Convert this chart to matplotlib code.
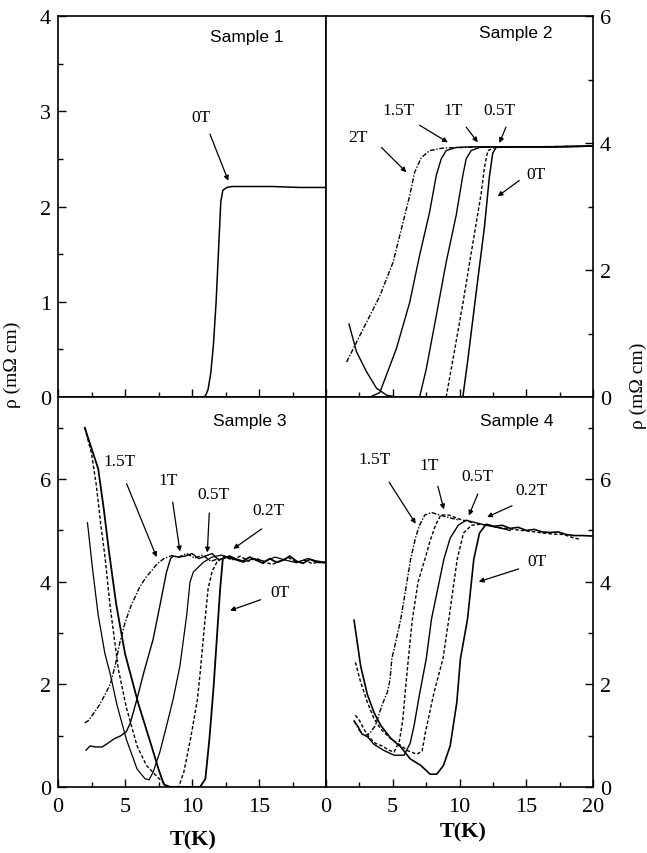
import matplotlib
matplotlib.use('Agg')
import matplotlib.pyplot as plt
from matplotlib.ticker import MultipleLocator, FuncFormatter

plt.rcParams['font.family'] = 'Liberation Serif'

# ---- Sample 1 ----
s1_T = [10.8, 11.0, 11.2, 11.4, 11.6, 11.8, 12.0, 12.15, 12.3, 12.6, 13.0, 14, 16, 18, 20]
s1_r = [0, 0.01, 0.08, 0.25, 0.55, 1.0, 1.6, 2.05, 2.17, 2.2, 2.21, 2.21, 2.21, 2.2, 2.2]

# ---- Sample 2 ----
s2_0T_T = [10.25, 10.62, 11.24, 11.87, 12.24, 12.49, 12.74, 13.5, 15, 17, 20]
s2_0T_r = [0, 0.58, 1.63, 2.68, 3.47, 3.84, 3.93, 3.94, 3.94, 3.94, 3.95]
s2_05T_T = [9.0, 9.5, 10.25, 10.99, 11.62, 11.87, 12.12, 12.61, 13.5, 15, 17, 20]
s2_05T_r = [0, 0.58, 1.47, 2.41, 3.2, 3.62, 3.88, 3.93, 3.94, 3.94, 3.94, 3.95]
s2_1T_T = [7.01, 7.51, 8.26, 9.0, 9.75, 10.25, 10.5, 10.87, 11.49, 12.5, 14, 17, 20]
s2_1T_r = [0, 0.44, 1.28, 2.12, 2.86, 3.49, 3.75, 3.88, 3.93, 3.94, 3.94, 3.94, 3.95]
s2_15T_T = [3.3, 4.03, 5.27, 6.27, 7.01, 7.76, 8.26, 8.63, 9.0, 9.75, 11, 13, 16, 20]
s2_15T_r = [0, 0.07, 0.76, 1.49, 2.23, 2.91, 3.49, 3.75, 3.88, 3.93, 3.94, 3.94, 3.94, 3.95]
s2_2T_T = [1.54, 2.54, 4.03, 5.02, 5.65, 6.27, 6.64, 7.14, 7.76, 8.75, 10.25, 12, 15, 20]
s2_2T_r = [0.55, 0.97, 1.59, 2.12, 2.65, 3.17, 3.54, 3.77, 3.88, 3.92, 3.93, 3.94, 3.94, 3.95]
s2_up_T = [1.72, 2.29, 3.03, 3.78, 4.53, 5.03, 5.3]
s2_up_r = [1.15, 0.71, 0.4, 0.14, 0.03, 0.01, 0.0]

# ---- Sample 3 ----
s3_0T_T = [2.0, 2.5, 3.0, 3.4, 3.8, 4.35, 5.0, 6.0, 7.0, 7.5, 7.9, 8.3, 10.6, 11.0, 11.3, 11.6,
           11.85, 12.1, 12.3, 12.8, 13.3, 13.8, 14.3, 14.8, 15.3, 15.8, 16.3, 16.8, 17.3, 17.8,
           18.3, 18.8, 19.3, 20.0]
s3_0T_r = [7.0, 6.6, 6.2, 5.45, 4.6, 3.55, 2.6, 1.62, 0.78, 0.35, 0.05, 0.0, 0.0, 0.16, 0.94, 1.91,
           2.88, 3.86, 4.45, 4.5, 4.44, 4.4, 4.48, 4.42, 4.36, 4.45, 4.38, 4.42, 4.5, 4.4,
           4.36, 4.44, 4.38, 4.37]
s3_02T_T = [2.0, 2.5, 2.85, 3.2, 3.5, 3.9, 4.5, 5.1, 5.9, 6.6, 7.4, 8.1, 8.5, 9.0, 9.4, 9.9, 10.4,
            10.6, 10.95, 11.2, 11.5, 11.85, 12.4, 13.0, 13.6, 14.2, 14.8, 15.4, 16.0, 16.6, 17.2,
            17.8, 18.4, 19.0, 19.5]
s3_02T_r = [7.0, 6.5, 5.9, 5.1, 4.5, 3.5, 2.3, 1.55, 0.8, 0.42, 0.2, 0.03, 0.0, 0.0, 0.3, 0.95, 1.7,
            2.2, 3.2, 3.86, 4.2, 4.38, 4.5, 4.42, 4.5, 4.4, 4.46, 4.38, 4.34, 4.4, 4.47,
            4.38, 4.42, 4.35, 4.4]
s3_05T_T = [2.2, 2.6, 3.0, 3.5, 3.9, 4.4, 5.1, 5.9, 6.5, 6.8, 7.1, 7.6, 8.1, 8.6, 9.1, 9.6, 9.85,
            10.1, 10.85, 11.5, 12.2, 13.0, 13.8, 14.6, 15.4, 16.2, 17.0, 17.8, 18.6, 19.4, 20.0]
s3_05T_r = [5.15, 4.2, 3.35, 2.6, 2.2, 1.6, 0.93, 0.35, 0.16, 0.14, 0.29, 0.68, 1.19, 1.72, 2.36, 3.34,
            3.99, 4.19, 4.38, 4.48, 4.52, 4.45, 4.38, 4.45, 4.4, 4.48, 4.42, 4.37, 4.45, 4.4, 4.38]
s3_1T_T = [2.1, 2.4, 2.8, 3.3, 3.7, 4.2, 4.7, 5.1, 5.4, 5.9, 6.4, 7.1, 7.6, 8.1, 8.4, 8.6, 9.0, 9.5,
           10.0, 10.5, 11.0, 11.5, 12.0, 12.5, 13.0]
s3_1T_r = [0.72, 0.8, 0.78, 0.78, 0.85, 0.94, 1.0, 1.08, 1.25, 1.72, 2.23, 2.88, 3.53, 4.19, 4.45, 4.5,
           4.48, 4.5, 4.55, 4.45, 4.5, 4.55, 4.42, 4.48, 4.45]
s3_15T_T = [2.0, 2.3, 2.7, 3.1, 3.5, 3.9, 4.3, 4.6, 5.0, 5.4, 6.1, 6.6, 7.0, 7.4, 7.9, 8.5, 9.0, 9.6,
            10.2, 10.8, 11.4, 12.0]
s3_15T_r = [1.25, 1.3, 1.45, 1.6, 1.8, 2.0, 2.4, 2.8, 3.2, 3.5, 3.9, 4.1, 4.22, 4.35, 4.45, 4.51, 4.48,
            4.55, 4.46, 4.52, 4.4, 4.45]

# ---- Sample 4 ----
s4_0T_T = [2.1, 2.6, 3.1, 3.6, 4.1, 4.85, 5.6, 6.3, 7.1, 7.8, 8.3, 8.8, 9.3, 9.8, 10.07, 10.6, 11.07,
           11.5, 12.0, 12.6, 13.2, 13.8, 14.4, 15.0, 15.6, 16.2, 16.8, 17.4, 18.0, 18.6, 19.2, 20.0]
s4_0T_r = [3.25, 2.35, 1.8, 1.45, 1.2, 0.95, 0.78, 0.55, 0.42, 0.25, 0.25, 0.42, 0.8, 1.65, 2.5, 3.27, 4.44,
           4.95, 5.12, 5.08, 5.1, 5.04, 5.06, 5.0, 5.02, 4.97, 4.96, 4.97, 4.92, 4.9, 4.9, 4.89]
s4_02T_T = [2.2, 2.6, 3.1, 3.6, 4.1, 4.85, 5.6, 6.1, 6.8, 7.2, 7.45, 8.1, 8.76, 9.2, 9.83, 10.3, 10.9,
            11.5, 12.2, 13.0, 13.8, 14.6, 15.4, 16.2, 17.0, 17.8, 18.6, 19.0]
s4_02T_r = [2.43, 2.04, 1.65, 1.33, 1.13, 0.94, 0.81, 0.71, 0.64, 0.7, 1.07, 1.85, 2.5, 3.27, 4.44, 4.95, 5.1,
            5.12, 5.1, 5.05, 5.03, 5.0, 4.98, 4.95, 4.93, 4.92, 4.85, 4.83]
s4_05T_T = [2.1, 2.4, 2.7, 3.1, 3.6, 4.35, 5.1, 5.85, 6.3, 6.6, 7.0, 7.51, 7.9, 8.83, 9.3, 9.9, 10.5,
            11.2, 12.0, 13.0, 13.8]
s4_05T_r = [1.28, 1.18, 1.03, 0.98, 0.83, 0.71, 0.62, 0.62, 0.85, 1.2, 1.8, 2.5, 3.27, 4.44, 4.85, 5.1, 5.2,
            5.15, 5.1, 5.05, 5.0]
s4_1T_T = [2.2, 2.5, 2.9, 3.3, 3.7, 4.2, 4.7, 5.1, 5.5, 5.75, 5.95, 6.17, 6.47, 6.9, 7.41, 7.8, 8.2, 8.6,
           9.2, 10.0, 11.0]
s4_1T_r = [1.4, 1.3, 1.1, 0.95, 0.85, 0.8, 0.72, 0.68, 0.9, 1.3, 1.9, 2.5, 3.27, 4.0, 4.44, 4.8, 5.1, 5.3,
           5.3, 5.22, 5.15]
s4_15T_T = [2.1, 2.5, 2.9, 3.3, 3.7, 4.2, 4.6, 4.8, 4.93, 5.2, 5.6, 6.0, 6.34, 6.7, 7.0, 7.4, 7.9, 8.5,
            9.2, 10.0]
s4_15T_r = [1.3, 1.1, 1.0, 1.05, 1.2, 1.6, 1.85, 2.1, 2.5, 2.8, 3.27, 3.9, 4.44, 4.85, 5.1, 5.3, 5.35, 5.3,
            5.25, 5.2]

solid = '-'
dashed = (0, (2.5, 1.5))
dashdot = (0, (3.5, 1.2, 1, 1.2))

fig = plt.figure(figsize=(6.47, 8.54), dpi=100)
W, H = 647.0, 854.0
ax1 = fig.add_axes([58 / W, 1 - 398 / H, 268 / W, 381 / H])
ax2 = fig.add_axes([326 / W, 1 - 398 / H, 267 / W, 381 / H])
ax3 = fig.add_axes([58 / W, 1 - 788 / H, 268 / W, 390 / H])
ax4 = fig.add_axes([326 / W, 1 - 788 / H, 267 / W, 390 / H])


def style(ax, ymax, ymaj, ymin, side, xlabels, hide20=False):
    ax.set_xlim(0, 20)
    ax.set_ylim(0, ymax)
    ax.xaxis.set_major_locator(MultipleLocator(5))
    ax.xaxis.set_minor_locator(MultipleLocator(2.5))
    ax.yaxis.set_major_locator(MultipleLocator(ymaj))
    ax.yaxis.set_minor_locator(MultipleLocator(ymin))
    ax.tick_params(which='both', direction='in', top=False, bottom=True,
                   left=(side == 'left'), right=(side == 'right'),
                   labelleft=(side == 'left'), labelright=(side == 'right'),
                   labelbottom=xlabels, labelsize=16, width=1.0)
    ax.tick_params(which='major', length=6, pad=5)
    ax.tick_params(axis='x', which='major', pad=7)
    ax.tick_params(which='minor', length=3.5)
    ax.xaxis.set_major_formatter(FuncFormatter(
        lambda v, p: '' if (hide20 and v > 19) else '%d' % v))
    ax.yaxis.set_major_formatter(FuncFormatter(lambda v, p: '%d' % v))
    for s in ax.spines.values():
        s.set_linewidth(1.2)


style(ax1, 4, 1, 0.5, 'left', False)
style(ax2, 6, 2, 1, 'right', False)
style(ax3, 7.6, 2, 1, 'left', True, hide20=True)
style(ax4, 7.6, 2, 1, 'right', True)


def label(ax, txt, pos, tail, tip):
    ax.text(pos[0], pos[1], txt, ha='center', va='center', fontsize=12.5)
    ax.annotate('', xy=tip, xytext=tail,
                arrowprops=dict(arrowstyle='-|>', color='k', lw=0.9,
                                mutation_scale=7, shrinkA=0, shrinkB=0))


def title(ax, txt, pos):
    ax.text(pos[0], pos[1], txt, ha='center', va='center', fontsize=12.5,
            family='Liberation Sans')


# Sample 1
ax1.plot(s1_T, s1_r, color='k', lw=1.1, ls=solid)
title(ax1, 'Sample 1', (14.1, 3.79))
label(ax1, '0T', (10.65, 2.94), (11.34, 2.76), (12.71, 2.27))

# Sample 2
ax2.plot(s2_up_T, s2_up_r, color='k', lw=1.0, ls=solid)
ax2.plot(s2_2T_T, s2_2T_r, color='k', lw=1.0, ls=dashdot)
ax2.plot(s2_15T_T, s2_15T_r, color='k', lw=1.0, ls=solid)
ax2.plot(s2_1T_T, s2_1T_r, color='k', lw=1.0, ls=solid)
ax2.plot(s2_05T_T, s2_05T_r, color='k', lw=1.0, ls=dashed)
ax2.plot(s2_0T_T, s2_0T_r, color='k', lw=1.1, ls=solid)
title(ax2, 'Sample 2', (14.2, 5.74))
label(ax2, '2T', (2.41, 4.09), (4.15, 3.93), (6.02, 3.54))
label(ax2, '1.5T', (5.4, 4.52), (7.01, 4.28), (9.13, 4.01))
label(ax2, '1T', (9.5, 4.52), (10.5, 4.25), (11.37, 4.01))
label(ax2, '0.5T', (12.99, 4.52), (13.48, 4.25), (12.99, 4.0))
label(ax2, '0T', (15.72, 3.51), (14.48, 3.41), (12.86, 3.16))

# Sample 3
ax3.plot(s3_15T_T, s3_15T_r, color='k', lw=1.0, ls=dashdot)
ax3.plot(s3_1T_T, s3_1T_r, color='k', lw=1.0, ls=solid)
ax3.plot(s3_05T_T, s3_05T_r, color='k', lw=0.9, ls=solid)
ax3.plot(s3_02T_T, s3_02T_r, color='k', lw=1.0, ls=dashed)
ax3.plot(s3_0T_T, s3_0T_r, color='k', lw=1.3, ls=solid)
title(ax3, 'Sample 3', (14.3, 7.14))
label(ax3, '1.5T', (4.63, 6.36), (5.12, 5.91), (7.36, 4.48))
label(ax3, '1T', (8.23, 5.99), (8.56, 5.55), (9.1, 4.59))
label(ax3, '0.5T', (11.59, 5.71), (11.29, 5.34), (11.14, 4.57))
label(ax3, '0.2T', (15.7, 5.39), (15.2, 5.03), (13.08, 4.64))
label(ax3, '0T', (16.57, 3.8), (15.13, 3.65), (12.84, 3.44))

# Sample 4
ax4.plot(s4_15T_T, s4_15T_r, color='k', lw=1.0, ls=dashdot)
ax4.plot(s4_1T_T, s4_1T_r, color='k', lw=1.0, ls=dashed)
ax4.plot(s4_05T_T, s4_05T_r, color='k', lw=1.0, ls=solid)
ax4.plot(s4_02T_T, s4_02T_r, color='k', lw=1.0, ls=dashed)
ax4.plot(s4_0T_T, s4_0T_r, color='k', lw=1.2, ls=solid)
title(ax4, 'Sample 4', (14.3, 7.14))
label(ax4, '1.5T', (3.61, 6.39), (4.73, 5.94), (6.72, 5.13))
label(ax4, '1T', (7.71, 6.28), (8.38, 5.86), (8.83, 5.41))
label(ax4, '0.5T', (11.32, 6.06), (11.37, 5.71), (10.7, 5.29))
label(ax4, '0.2T', (15.42, 5.78), (13.93, 5.48), (12.07, 5.26))
label(ax4, '0T', (15.8, 4.41), (14.43, 4.25), (11.44, 4.0))

# axis titles
fig.text(12 / W, 1 - 365 / H, 'ρ (mΩ cm)', rotation=90, ha='center', va='center', fontsize=14)
fig.text(638 / W, 1 - 386 / H, 'ρ (mΩ cm)', rotation=90, ha='center', va='center', fontsize=14)
fig.text(193 / W, 1 - 840 / H, 'T(K)', ha='center', va='center', fontsize=16, fontweight='bold')
fig.text(463 / W, 1 - 832 / H, 'T(K)', ha='center', va='center', fontsize=16, fontweight='bold')

fig.savefig('out.png', dpi=100)
